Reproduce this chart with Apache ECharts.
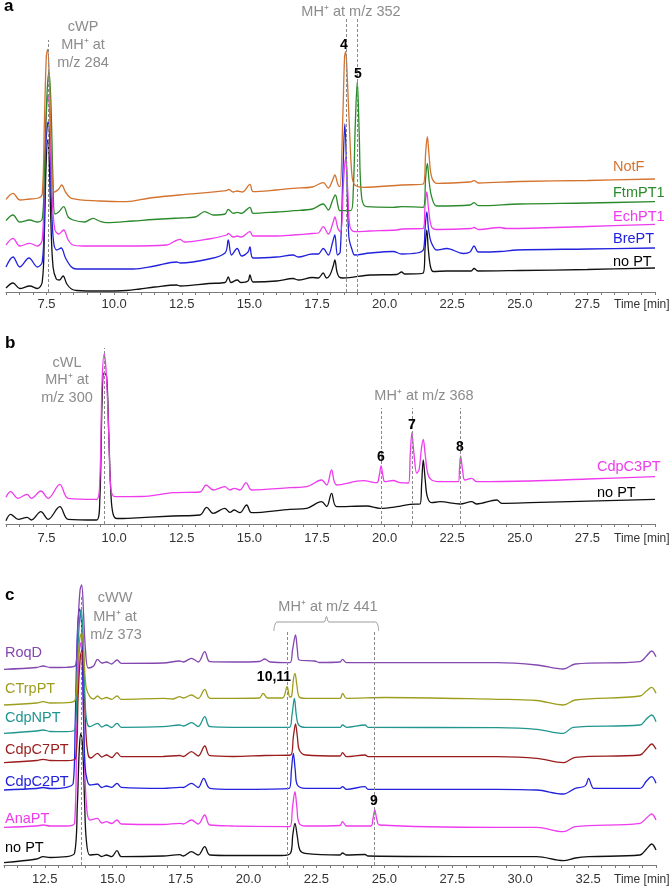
<!DOCTYPE html>
<html>
<head>
<meta charset="utf-8">
<script src="https://cdn.jsdelivr.net/npm/echarts@6/dist/echarts.min.js"></script>
<style>
html,body{margin:0;padding:0;background:#fff;}
#chart{width:671px;height:887px;}
</style>
</head>
<body>
<div id="chart"></div>
<script>
// ---------- Tick labels (time, min) ----------
const tickLabelsAB = [7.5, 10.0, 12.5, 15.0, 17.5, 20.0, 22.5, 25.0, 27.5];
const tickLabelsC = [12.5, 15.0, 17.5, 20.0, 22.5, 25.0, 27.5, 30.0, 32.5];

// ---------- Panel a : cWP (MH+ 284) -> products MH+ 352 ----------
const aNoPT = [[6.0,4],[6.26,9],[6.51,3.5],[6.88,6],[7.16,3.5],[7.34,10],[7.42,60],[7.48,125],[7.54,152],[7.60,130],[7.66,70],[7.74,25],[7.86,13],[7.98,12],[8.11,16],[8.25,8],[8.42,3],[8.61,1.5],[9.5,1],[10.46,1.5],[10.95,3],[11.5,5],[12.31,7],[12.45,6],[13.5,8.5],[14.1,9.5],[14.22,15],[14.32,9.5],[14.55,12],[14.68,9.5],[14.95,11],[15.02,17],[15.14,10],[16.0,11],[16.62,13.5],[16.8,12],[17.33,14.5],[17.55,14],[17.73,19],[17.85,14],[17.98,17],[18.1,26],[18.16,32],[18.24,20],[18.32,15],[18.47,14],[19.46,17],[20.45,17.5],[20.63,20],[20.75,18],[21.43,19],[21.50,45],[21.56,62],[21.62,42],[21.70,25],[21.80,20.5],[22.3,21],[23.2,21],[23.31,23.5],[23.45,21],[25,21.5],[27.5,22.5],[30,24]];
const aBrePT = [[6.0,25],[6.26,35],[6.51,25],[6.85,34],[7.16,25],[7.34,30],[7.42,80],[7.48,150],[7.56,170],[7.62,150],[7.68,90],[7.76,50],[7.88,42],[8.04,44],[8.2,34],[8.42,25],[8.61,23],[10.7,23],[11.5,26],[12.31,30],[12.45,29],[13.5,33],[14.1,39],[14.22,52],[14.34,37],[14.55,43.5],[14.71,36],[14.95,40],[15.02,45],[15.14,34],[16.0,35],[16.62,37],[16.8,35],[17.33,38],[17.55,38],[17.73,43.5],[17.92,37],[18.08,50],[18.16,57],[18.26,37],[18.36,40],[18.46,120],[18.53,168],[18.60,120],[18.68,55],[18.80,42],[18.90,37],[19.46,39],[20.32,40.5],[20.63,38],[21.43,42],[21.50,65],[21.56,80],[21.63,62],[21.72,50],[21.93,42],[22.3,43.5],[22.91,38.5],[23.16,40],[23.31,46],[23.47,40],[24.27,40.5],[24.89,42],[27.5,43],[30,44]];
const aEchPT1 = [[6.0,47],[6.26,53.7],[6.51,46],[6.88,48.7],[7.16,46],[7.34,52],[7.42,120],[7.50,185],[7.56,197],[7.62,175],[7.70,100],[7.80,63],[7.95,58],[8.13,62],[8.3,52],[8.48,47],[8.85,46],[10.46,46],[11.94,47],[12.43,52.7],[12.6,50],[13.5,53],[14.16,57],[14.22,58.7],[14.4,55],[14.55,56],[14.7,55],[15.02,60.3],[15.14,56],[16.0,56],[16.62,57],[17.33,58.5],[17.55,59],[17.73,65.3],[17.92,58],[18.1,70],[18.16,75],[18.28,63],[18.38,60],[18.48,110],[18.56,135],[18.64,100],[18.72,65],[18.90,60.3],[19.46,61],[20.45,62],[20.63,63],[21.43,63.7],[21.50,88],[21.56,100],[21.63,82],[21.74,65],[21.93,62.5],[23.2,63.5],[23.31,64.5],[23.47,62.5],[24.27,64.5],[24.5,63.5],[27.5,65.5],[30,67.7]];
const aFtmPT1 = [[6.0,71.3],[6.26,77],[6.51,70],[6.88,72],[7.16,70],[7.34,73],[7.42,120],[7.52,200],[7.59,220],[7.66,190],[7.74,110],[7.81,78],[7.95,80],[8.13,85.3],[8.3,75],[8.48,72],[8.9,70],[9.22,73.7],[9.45,71],[9.72,69.3],[10.7,71],[11.44,72.5],[12.43,74],[13.0,75],[13.35,80.3],[13.66,77],[14.1,78],[14.22,82.7],[14.4,78.7],[14.55,79.7],[14.71,78.7],[15.02,84.7],[15.14,78.7],[16.0,80],[16.62,81.3],[17.33,83],[17.73,88],[17.92,82],[18.08,92],[18.18,97],[18.28,86],[18.35,81.3],[18.75,81.3],[18.84,100],[18.92,170],[18.99,210.3],[19.06,160],[19.15,95],[19.34,85.3],[20.32,84.7],[20.63,85.3],[21.43,84.7],[21.52,115],[21.58,128.7],[21.65,110],[21.74,95.3],[21.93,86],[23.16,87],[23.31,89.3],[23.47,86.3],[25,88],[27.5,89],[30,90.3]];
const aNotF = [[6.0,92.7],[6.26,98.7],[6.51,92],[6.88,93],[7.2,94],[7.34,98],[7.42,170],[7.49,235],[7.54,242.7],[7.60,215],[7.68,140],[7.78,100],[7.95,103],[8.06,107],[8.2,100],[8.42,93.7],[9.47,91],[10.46,90.3],[11.32,94],[12.43,97],[14.16,101.3],[14.22,102.7],[14.4,100],[14.55,101],[14.75,100],[15.02,107.7],[15.14,100.3],[16.0,102],[16.62,103.7],[17.33,105],[17.73,109.3],[17.92,104],[18.08,112],[18.16,117],[18.28,107],[18.35,105.3],[18.45,170],[18.52,235],[18.56,240.3],[18.62,215],[18.72,152],[18.80,115],[18.90,107],[19.21,104.7],[20.63,107],[21.43,108],[21.52,140],[21.58,155.3],[21.65,135],[21.74,115],[21.93,108.7],[23.16,110],[23.31,111.3],[23.47,109],[25,110.5],[27.5,111.5],[30,113]];

// ---------- Panel b : cWL (MH+ 300) -> products MH+ 368 ----------
const bNoPT = [[6.0,3.3],[6.17,9.7],[6.45,4.7],[6.78,6.7],[6.94,4],[7.29,12.3],[7.56,4.7],[7.99,17.3],[8.30,4.7],[9.35,4],[9.47,25],[9.55,120],[9.62,151],[9.72,148],[9.80,90],[9.88,30],[9.96,10],[10.1,5.5],[10.5,5.7],[12.18,8],[13.17,9],[13.42,16.7],[13.66,10.7],[14.09,15.7],[14.28,11.7],[14.44,14],[14.65,11.3],[14.90,19],[15.08,11.3],[16.50,14.7],[17.12,15.7],[17.67,22.3],[17.86,17.5],[18.04,30.7],[18.23,17.3],[19.34,18],[19.83,15.7],[20.45,17.3],[20.94,19.7],[21.31,20],[21.37,40],[21.43,64],[21.50,45],[21.58,27.3],[21.74,21.3],[22.05,22.3],[22.79,20],[23.22,22.3],[23.41,20],[24.15,24],[24.33,20.7],[25.38,21.3],[30,24.7]];
const bCdpC3PT = [[6.0,26.7],[6.17,32.3],[6.45,25.7],[6.78,29.7],[6.94,25.7],[7.29,33],[7.56,25.7],[7.99,39.7],[8.30,25.7],[9.35,24.7],[9.47,45],[9.55,140],[9.63,170],[9.71,150],[9.80,90],[9.88,35],[10.03,27.3],[11.0,27.5],[12.18,31.3],[13.17,32],[13.4,39],[13.66,34],[14.09,37.3],[14.28,34],[14.44,35.7],[14.65,34],[14.88,41.3],[15.08,34],[16.50,36.3],[17.12,37.3],[17.67,44],[17.86,39],[18.04,54],[18.23,39],[19.21,43.3],[19.71,41.3],[19.80,48],[19.87,58],[19.94,48],[20.01,42.3],[20.32,43.5],[20.57,41.3],[20.88,41],[20.95,70],[21.01,91.3],[21.08,72],[21.19,50.7],[21.28,55],[21.36,75],[21.43,84.7],[21.50,70],[21.60,50],[21.74,44],[22.05,42.3],[22.73,42.3],[22.77,55],[22.81,68],[22.88,55],[22.97,44],[23.22,45.7],[23.41,42.3],[25.38,43],[27.5,45],[30,47.3]];

// ---------- Panel c : cWW (MH+ 373) -> products MH+ 441 ----------
const cNoPT = [[11.0,2.3],[12.2,6],[12.44,8.3],[12.7,7.5],[13.3,8.3],[13.6,12],[13.70,60],[13.77,115],[13.83,131.7],[13.90,115],[13.97,60],[14.03,25],[14.16,10],[14.44,10.7],[14.6,8.5],[14.77,10],[14.96,8.3],[15.16,14.3],[15.32,8.3],[16.86,9],[17.47,10.3],[17.6,9],[17.90,13.3],[18.15,10],[18.39,18.3],[18.58,10],[19.43,9.5],[21.22,9.5],[21.55,12],[21.63,30],[21.71,41.7],[21.80,28],[21.89,15],[22.08,11.7],[23.37,10],[23.46,12],[23.61,10],[24.29,10.5],[24.4,9],[29.14,8.3],[30.61,8.3],[31.59,4.3],[32.03,7],[32.52,8.3],[34.41,10],[34.65,16],[34.84,21],[35.0,15]];
const cAnaPT = [[11.0,37.7],[12.2,39],[12.44,40],[12.7,39],[13.3,39],[13.6,42],[13.68,140],[13.76,210],[13.82,222],[13.89,190],[13.97,100],[14.05,55],[14.16,45],[14.44,46.7],[14.6,42],[14.77,43.3],[14.96,41.5],[15.16,45],[15.32,41],[16.86,40.5],[17.47,41.7],[17.6,41],[17.90,45],[18.15,41],[18.39,50],[18.58,40],[19.43,39],[21.52,38.3],[21.62,58],[21.71,73.3],[21.78,58],[21.86,42],[22.1,39],[23.37,39.5],[23.46,43.3],[23.61,39],[24.50,39],[24.58,46],[24.65,55],[24.72,46],[24.82,40],[29.14,37.7],[30.61,37.7],[31.59,33.3],[32.03,38.3],[34.41,41.7],[34.65,47],[34.84,51],[35.0,45]];
const cCdpC2PT = [[11.0,75],[12.2,76.5],[12.44,77.5],[12.7,76.5],[13.3,77.7],[13.55,82],[13.62,140],[13.70,230],[13.78,256],[13.86,240],[13.92,160],[13.98,100],[14.06,85],[14.16,80],[14.44,81],[14.6,77.5],[14.77,79],[14.96,77.7],[15.16,81.7],[15.32,77.7],[16.86,76.7],[17.47,77.7],[17.6,77.5],[17.90,81.7],[18.15,77.5],[18.35,86.7],[18.58,76.7],[19.43,75.7],[21.5,76.7],[21.58,95],[21.65,111.7],[21.72,95],[21.80,80],[22.1,76.7],[23.37,76.7],[23.46,78.3],[23.61,75.7],[24.29,78.3],[24.4,75.7],[29.14,75.7],[30.61,75],[31.59,71],[32.03,76.7],[32.3,78],[32.42,80],[32.52,86.7],[32.62,80],[32.70,76.7],[34.41,76.7],[34.65,84],[34.84,88.3],[35.0,81.7]];
const cCdpC7PT = [[11.0,102.3],[12.2,104.5],[12.44,105.7],[12.7,104.5],[13.3,104.3],[13.64,107],[13.73,170],[13.81,208],[13.87,215],[13.94,185],[14.02,130],[14.10,110],[14.2,107],[14.44,111.7],[14.6,108],[14.77,110],[14.96,107.5],[15.16,112.3],[15.32,108.3],[16.86,108.5],[17.47,109.5],[17.6,108.5],[17.90,113.3],[18.15,109],[18.39,119],[18.58,109.3],[19.43,108.5],[20.6,109.5],[21.55,110],[21.65,128],[21.73,141],[21.80,128],[21.87,115],[22.1,110],[23.37,109],[23.46,112.3],[23.61,108.3],[24.29,110],[24.4,108.3],[29.14,108.3],[30.61,106.7],[31.59,102.3],[32.03,107.7],[34.41,110],[34.65,116],[34.84,121],[35.0,115.7]];
const cCdpNPT = [[11.0,131.7],[12.2,134],[12.44,135],[12.7,133.5],[13.3,133.3],[13.62,136],[13.70,200],[13.78,245],[13.84,255],[13.91,230],[13.99,160],[14.06,142],[14.16,138.3],[14.44,141.7],[14.6,138],[14.77,140],[14.96,137.5],[15.16,141.7],[15.32,137.7],[16.86,138.3],[17.47,140],[17.6,139],[17.90,142.3],[18.15,138.5],[18.39,148.3],[18.58,138.3],[19.43,137.7],[21.5,137.7],[21.60,150],[21.69,166.7],[21.76,150],[21.85,140],[22.1,137.7],[23.37,137.7],[23.46,140],[23.61,137.7],[24.29,140],[24.4,137.7],[29.14,137.3],[30.61,135.7],[31.59,131.7],[31.95,137.7],[34.41,140],[34.65,146],[34.84,150],[35.0,143.3]];
const cCTrpPT = [[11.0,160],[12.2,162],[12.44,163.3],[12.7,162],[13.3,162.3],[13.62,165],[13.72,205],[13.80,228],[13.86,232],[13.93,215],[14.02,178],[14.16,168.3],[14.30,166],[14.44,169],[14.60,166],[14.77,167.5],[14.96,165.7],[15.16,169],[15.32,165.7],[16.86,166.7],[17.2,166],[17.47,168.3],[17.6,167],[17.90,170],[18.15,166.5],[18.39,175.7],[18.58,166.7],[19.43,166.7],[20.4,167],[20.54,171.7],[20.7,167],[21.25,167],[21.42,178.3],[21.52,168],[21.59,169],[21.65,185],[21.71,191.7],[21.78,180],[21.87,168],[22.1,166.7],[23.37,166.7],[23.46,171.7],[23.61,166.7],[25.02,167.5],[29.14,165.7],[30.61,164.5],[31.59,160],[32.03,165],[34.41,169],[34.65,174],[34.84,177.7],[35.0,171.7]];
const cRoqD = [[11.0,195.7],[12.2,197.5],[12.44,199],[12.7,197.5],[13.3,197.7],[13.64,200],[13.72,240],[13.80,275],[13.86,280],[13.93,250],[14.00,215],[14.10,197],[14.30,199],[14.44,205.7],[14.6,202],[14.77,203],[14.96,201],[15.16,205],[15.32,201.7],[16.86,202],[17.47,204],[17.6,203],[17.90,206.7],[18.15,203],[18.39,213.3],[18.58,203.3],[19.43,203],[20.4,203.5],[20.6,206],[20.8,203],[21.52,202.3],[21.62,215],[21.73,230],[21.80,215],[21.87,205],[22.44,204],[22.6,202.5],[23.37,203],[23.46,205.7],[23.61,202.3],[29.14,202.3],[30.61,200],[31.59,196],[32.03,201],[34.41,203.3],[34.65,209],[34.84,214],[35.0,208.3]];

// ---------- Marker (dashed) retention times ----------
const markA = [[7.55, 252], [18.57, 274], [18.99, 274]];
const markB = [[9.63, 176], [19.89, 116], [21.02, 116], [22.81, 116]];
const markC = [[13.83, 268], [21.42, 235], [24.63, 235]];
const bracketC = [[20.93,234],[20.97,240],[21.05,243],[22.78,243],[22.87,248.5],[22.96,243],[24.68,243],[24.76,240],[24.79,234]];

const FONT = '"Liberation Sans", Arial, Helvetica, sans-serif';
const GRAY = '#8c8c8c';

const panels = [
  {grid:{left:6, width:649, top:2, height:290}, min:6, max:30, ymax:290, labelMargin:6},
  {grid:{left:6, width:649, top:334, height:190}, min:6, max:30, ymax:190, labelMargin:8},
  {grid:{left:4, width:652, top:575, height:290}, min:11, max:35, ymax:290, labelMargin:8}
];
const tickSets = [tickLabelsAB, tickLabelsAB, tickLabelsC];

const grids = panels.map(p => Object.assign({containLabel:false}, p.grid));
const xAxes = panels.map((p, i) => ({
  type:'value', gridIndex:i, min:p.min, max:p.max, interval:0.5,
  splitLine:{show:false},
  axisLine:{show:true, onZero:false, lineStyle:{color:'#7a7a7a', width:1}},
  axisTick:{show:true, length:3, lineStyle:{color:'#7a7a7a'}},
  axisLabel:{
    margin:p.labelMargin, color:'#333', fontSize:13, fontFamily:FONT,
    formatter: v => {
      const r = Math.round(v*100)/100;
      return tickSets[i].some(t => Math.abs(t - r) < 1e-6) ? r.toFixed(1) : '';
    }
  }
}));
const yAxes = panels.map((p, i) => ({
  type:'value', gridIndex:i, min:0, max:p.ymax, show:false, splitLine:{show:false}
}));

function trace(data, color, panel, name) {
  return {
    type:'line', name:name, data:data, xAxisIndex:panel, yAxisIndex:panel,
    showSymbol:false, symbol:'none', smooth:0.35, clip:false, silent:true,
    lineStyle:{color:color, width:1.3}, itemStyle:{color:color}, z:2
  };
}
function marks(list, panel) {
  return {
    type:'line', data:[], xAxisIndex:panel, yAxisIndex:panel, silent:true, z:1,
    markLine:{
      silent:true, symbol:['none','none'], label:{show:false},
      lineStyle:{color:'#8a8a8a', type:[3,2], width:1},
      data: list.map(m => [{coord:[m[0], 0]}, {coord:[m[0], m[1]]}])
    }
  };
}

const C = {
  orange:'#D4732F', green:'#2B8A2B', magenta:'#EE3BEE', blue:'#2222DD', black:'#111111',
  purple:'#8347B0', olive:'#9E9E1E', teal:'#21968F', red:'#9A1C1C'
};

const series = [
  marks(markA, 0), marks(markB, 1), marks(markC, 2),
  trace(aNoPT, C.black, 0, 'no PT'),
  trace(aBrePT, C.blue, 0, 'BrePT'),
  trace(aEchPT1, C.magenta, 0, 'EchPT1'),
  trace(aFtmPT1, C.green, 0, 'FtmPT1'),
  trace(aNotF, C.orange, 0, 'NotF'),
  trace(bNoPT, C.black, 1, 'no PT'),
  trace(bCdpC3PT, C.magenta, 1, 'CdpC3PT'),
  trace(cNoPT, C.black, 2, 'no PT'),
  trace(cAnaPT, C.magenta, 2, 'AnaPT'),
  trace(cCdpC2PT, C.blue, 2, 'CdpC2PT'),
  trace(cCdpC7PT, C.red, 2, 'CdpC7PT'),
  trace(cCdpNPT, C.teal, 2, 'CdpNPT'),
  trace(cCTrpPT, C.olive, 2, 'CTrpPT'),
  trace(cRoqD, C.purple, 2, 'RoqD'),
  {type:'line', data:bracketC, xAxisIndex:2, yAxisIndex:2, showSymbol:false, symbol:'none', smooth:0.3, silent:true,
   lineStyle:{color:'#9a9a9a', width:1}, z:1}
];

function txt(x, y, s, opt) {
  opt = opt || {};
  return {
    type:'text', x:x, y:y, silent:true, z:10,
    style:{
      text:s, fill:opt.color || GRAY, font:(opt.bold ? 'bold ' : '') + (opt.size || 14.5) + 'px ' + FONT,
      textAlign:opt.align || 'center', textVerticalAlign:'middle'
    }
  };
}

const graphics = [
  // panel a
  txt(4, 6, 'a', {bold:true, size:17, color:'#000', align:'left'}),
  txt(83, 27, 'cWP'), txt(83, 45, 'MH\u207A at'), txt(83, 63, 'm/z 284'),
  txt(351, 12, 'MH\u207A at m/z 352'),
  txt(344, 45, '4', {bold:true, color:'#000', size:14}),
  txt(358, 74, '5', {bold:true, color:'#000', size:14}),
  txt(613, 167, 'NotF', {color:C.orange, align:'left'}),
  txt(613, 193, 'FtmPT1', {color:C.green, align:'left'}),
  txt(613, 217, 'EchPT1', {color:C.magenta, align:'left'}),
  txt(613, 239, 'BrePT', {color:C.blue, align:'left'}),
  txt(613, 262, 'no PT', {color:'#000', align:'left'}),
  txt(614, 305, 'Time [min]', {color:'#333', size:12, align:'left'}),
  // panel b
  txt(5, 343, 'b', {bold:true, size:17, color:'#000', align:'left'}),
  txt(67, 363, 'cWL'), txt(67, 380, 'MH\u207A at'), txt(67, 398, 'm/z 300'),
  txt(424, 396, 'MH\u207A at m/z 368'),
  txt(381, 457, '6', {bold:true, color:'#000', size:14}),
  txt(412, 425, '7', {bold:true, color:'#000', size:14}),
  txt(460, 447, '8', {bold:true, color:'#000', size:14}),
  txt(597, 467, 'CdpC3PT', {color:C.magenta, align:'left'}),
  txt(597, 493, 'no PT', {color:'#000', align:'left'}),
  txt(614, 539, 'Time [min]', {color:'#333', size:12, align:'left'}),
  // panel c
  txt(5, 595, 'c', {bold:true, size:17, color:'#000', align:'left'}),
  txt(115, 598, 'cWW'), txt(115, 617, 'MH\u207A at'), txt(116, 635, 'm/z 373'),
  txt(328, 607, 'MH\u207A at m/z 441'),
  txt(274, 677, '10,11', {bold:true, color:'#000', size:14}),
  txt(374, 801, '9', {bold:true, color:'#000', size:14}),
  txt(5, 653, 'RoqD', {color:C.purple, align:'left'}),
  txt(5, 689, 'CTrpPT', {color:C.olive, align:'left'}),
  txt(5, 718, 'CdpNPT', {color:C.teal, align:'left'}),
  txt(5, 750, 'CdpC7PT', {color:C.red, align:'left'}),
  txt(5, 782, 'CdpC2PT', {color:C.blue, align:'left'}),
  txt(5, 819, 'AnaPT', {color:C.magenta, align:'left'}),
  txt(5, 848, 'no PT', {color:'#000', align:'left'}),
  txt(614, 880, 'Time [min]', {color:'#333', size:12, align:'left'})
];

const chart = echarts.init(document.getElementById('chart'), null, {renderer:'canvas'});
chart.setOption({
  backgroundColor:'#ffffff',
  animation:false,
  grid:grids, xAxis:xAxes, yAxis:yAxes,
  series:series,
  graphic:graphics
});
</script>
</body>
</html>
